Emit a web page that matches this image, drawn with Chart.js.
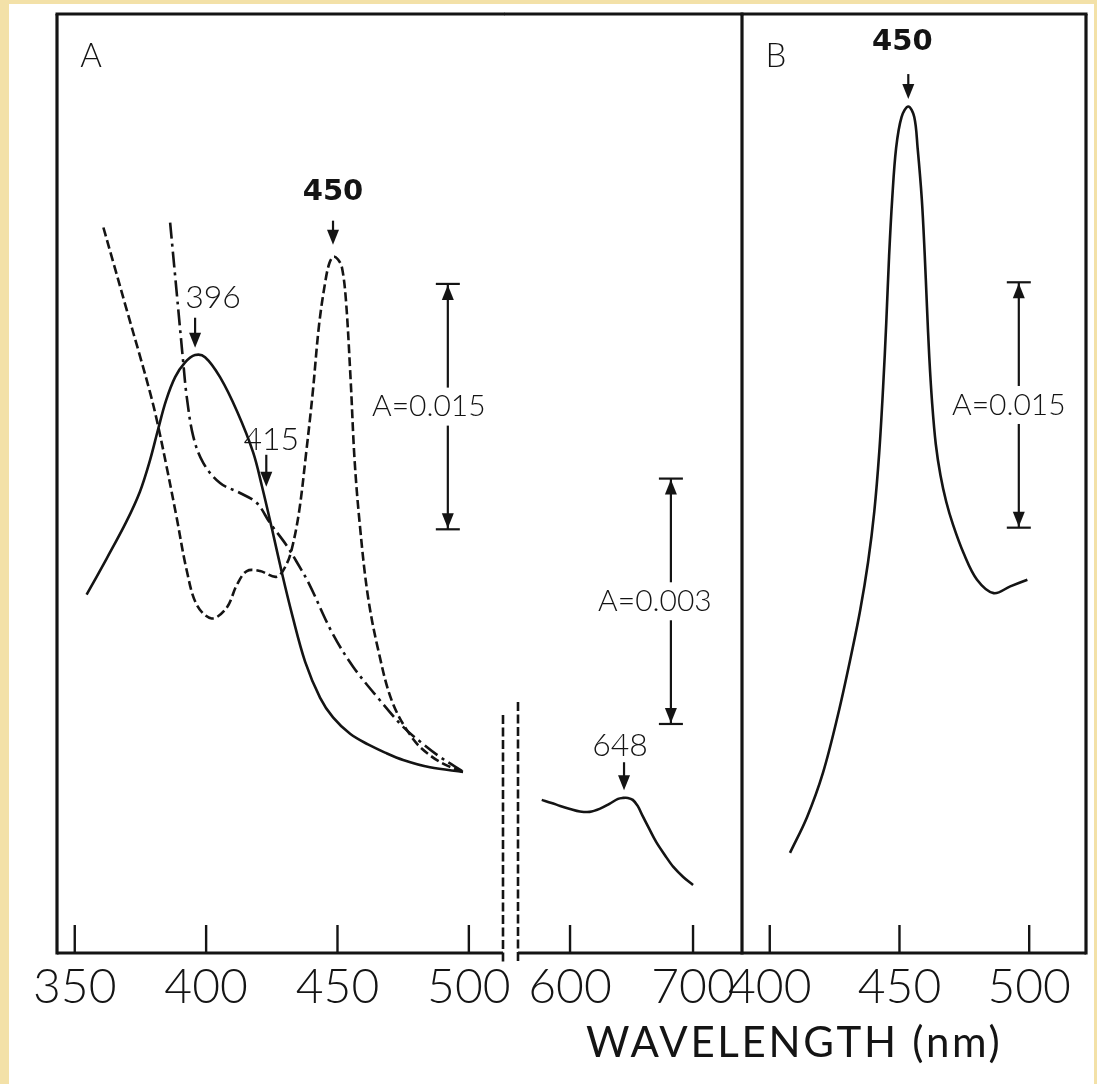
<!DOCTYPE html>
<html>
<head>
<meta charset="utf-8">
<script src="https://cdn.jsdelivr.net/npm/chart.js@4.4.1/dist/chart.umd.min.js"></script>
<style>
  body { margin: 0; background: #f3e1a8; }
  #page { position: relative; width: 1097px; height: 1084px; overflow: hidden; }
  #paper { position: absolute; left: 9px; top: 4px; right: 3px; bottom: 0; background: #fff; }
  canvas { position: absolute; left: 0; top: 0; }
  #xtitle {
    position: absolute; left: 586px; top: 1020px;
    font: 400 42px Lato, "Noto Sans", sans-serif; line-height: 42px;
    letter-spacing: 2.7px; color: #141414; white-space: nowrap;
  }
</style>
</head>
<body>
<div id="page">
  <div id="paper"></div>
  <canvas id="chart-a-uv" width="1097" height="1084"></canvas>
  <canvas id="chart-a-vis" width="1097" height="1084"></canvas>
  <canvas id="chart-b" width="1097" height="1084"></canvas>
  <div id="xtitle">WAVELENGTH (nm)</div>
</div>
<script>
// absorbance in milli-units, arbitrary baseline; scale bars give the real size
const ticksUv = [350, 400, 450, 500];
const ticksVis = [600, 700];
const ticksB = [400, 450, 500];

// panel A, solid trace (peak 396)
const aSolidNm = [354.5, 362.2, 369.5, 374.8, 378.6, 381.7, 384.7, 388.2, 392.0, 395.8, 399.6,
  405.3, 411.8, 417.9, 421.3, 425.1, 428.9, 432.7, 437.7, 443.4, 448.3, 454.8, 461.6, 468.1,
  475.0, 485.2, 497.8];
const aSolidAbs = [21.90, 24.13, 26.32, 28.20, 30.10, 32.00, 33.75, 35.20, 36.10, 36.55, 36.42,
  35.20, 33.10, 30.60, 28.50, 25.90, 23.20, 20.70, 17.80, 15.60, 14.40, 13.40, 12.75, 12.25,
  11.80, 11.35, 11.07];

// panel A, dashed trace (peak 450)
const aDashNm = [360.9, 364.7, 369.8, 374.8, 378.6, 381.2, 385.0, 388.8, 392.6, 396.4, 402.1,
  407.8, 411.7, 415.5, 420.5, 426.9, 430.7, 433, 435.5, 438, 440.5, 443, 445.5, 447, 448.5,
  450.2, 451.7, 453.2, 455, 456.5, 458.5, 461.5, 465.5, 471, 479, 486, 492, 498];
const aDashAbs = [44.35, 42.20, 39.30, 36.50, 34.30, 32.60, 29.70, 26.60, 23.40, 21.30, 20.45,
  21.10, 22.50, 23.35, 23.35, 23.00, 23.80, 24.96, 27.10, 30.46, 34.13, 38.41, 41.17, 42.21,
  42.57, 42.39, 41.90, 39.94, 35.05, 30.16, 26.18, 21.90, 18.53, 15.29, 13.03, 11.99, 11.44,
  11.07];

// panel A, dash-dot trace (shoulder 415)
const aDashDotNm = [386.3, 388.8, 391.3, 392.6, 395.1, 398.9, 405.3, 412.9, 419.3, 424.3, 430.7,
  434.5, 439, 448, 456, 466, 475, 482, 489, 498];
const aDashDotAbs = [44.64, 40.37, 36.09, 34.03, 31.58, 29.96, 28.73, 28.12, 27.51, 26.29, 24.90,
  23.90, 22.63, 19.57, 17.49, 15.48, 13.82, 12.85, 11.99, 11.07];

// panel A, 600-700 nm part (5x expanded scale, peak 648)
const aVisNm = [577, 585, 592, 600, 608, 616, 624, 632, 639, 643, 647, 651, 655, 659, 664, 670,
  677, 684, 692, 700];
const aVisAbs = [1.872, 1.835, 1.798, 1.762, 1.731, 1.725, 1.762, 1.823, 1.884, 1.896, 1.896,
  1.872, 1.798, 1.676, 1.529, 1.358, 1.199, 1.052, 0.930, 0.832];

// panel B (peak 450)
const bNm = [407.8, 414.4, 420.5, 426.3, 431.0, 434.8, 437.9, 440.3, 442.2, 443.7, 444.9, 446.0,
  447.2, 448.7, 450.8, 453.4, 455.7, 457.0, 458.6, 459.7, 460.6, 461.5, 462.6, 464.0, 465.8,
  468.0, 470.6, 474.7, 479.9, 486.3, 492.7, 499.3];
const bAbs = [6.12, 8.32, 11.01, 14.56, 17.92, 20.90, 23.90, 27.00, 30.60, 34.60, 38.50, 42.60,
  46.10, 49.20, 51.10, 51.75, 51.10, 49.20, 46.10, 42.80, 39.50, 36.40, 33.60, 31.10, 29.20,
  27.60, 26.20, 24.45, 22.82, 22.00, 22.41, 22.82];

const peakLabels = ["396", "415", "450", "648"];
const scaleBars = [15, 3];

const ink = "#141414";
const thin = "300 ";

function pts(xs, ys) {
  return xs.map((x, i) => ({ x: x, y: ys[i] }));
}

function line(ctx, x1, y1, x2, y2) {
  ctx.beginPath(); ctx.moveTo(x1, y1); ctx.lineTo(x2, y2); ctx.stroke();
}

function head(ctx, x, y, dir) {
  // dir 1 = pointing down, -1 = pointing up
  ctx.beginPath();
  ctx.moveTo(x, y);
  ctx.lineTo(x - 6, y - dir * 15);
  ctx.lineTo(x + 6, y - dir * 15);
  ctx.closePath();
  ctx.fill();
}

const overlay = {
  id: "overlay",
  afterDatasetsDraw(chart, args, o) {
    const ctx = chart.ctx, a = chart.chartArea;
    const xs = chart.scales.x, ys = chart.scales.y;
    ctx.save();
    ctx.strokeStyle = ink; ctx.fillStyle = ink;
    ctx.lineCap = "butt";

    // frame
    ctx.lineWidth = 3.2;
    if (o.sides.includes("top")) line(ctx, a.left - (o.topExtend || 1.5), a.top, a.right + 1.5, a.top);
    if (o.sides.includes("left")) line(ctx, a.left, a.top, a.left, a.bottom + 1.5);
    if (o.sides.includes("right")) line(ctx, a.right, a.top, a.right, a.bottom + 1.5);
    line(ctx, a.left, a.bottom, a.right, a.bottom);

    // axis break
    if (o.breakAt) {
      ctx.save();
      ctx.lineWidth = 2.6;
      ctx.setLineDash([9, 3.5]);
      line(ctx, o.breakAt.x, o.breakAt.from, o.breakAt.x, a.bottom + 9);
      ctx.restore();
    }

    // ticks point inward
    ctx.lineWidth = 2.4;
    xs.ticks.forEach(t => {
      const px = xs.getPixelForValue(t.value);
      line(ctx, px, a.bottom, px, a.bottom - 28);
    });

    // panel letter
    if (o.letter) {
      ctx.font = thin + "33px Lato, sans-serif";
      ctx.textAlign = "center"; ctx.textBaseline = "middle";
      ctx.fillText(o.letter, a.left + 34, a.top + 42);
    }

    // peak arrows
    (o.arrows || []).forEach(ar => {
      const px = xs.getPixelForValue(ar.x), py = ys.getPixelForValue(ar.y);
      ctx.lineWidth = 2.2;
      line(ctx, px, py - ar.len, px, py - 8);
      head(ctx, px, py, 1);
      ctx.font = ar.bold ? "bold 29px 'DejaVu Sans', sans-serif" : thin + "32px Lato, sans-serif";
      ctx.textAlign = "center"; ctx.textBaseline = "middle";
      ctx.fillText(ar.text, px + ar.dx, py + ar.dy);
    });

    // absorbance scale bars
    (o.bars || []).forEach(b => {
      const px = xs.getPixelForValue(b.x);
      const y0 = ys.getPixelForValue(b.y), y1 = ys.getPixelForValue(b.y + b.size);
      ctx.lineWidth = 2.2;
      line(ctx, px, y1, px, y0);
      line(ctx, px - 12, y1, px + 12, y1);
      line(ctx, px - 12, y0, px + 12, y0);
      head(ctx, px, y1 + 1, -1);
      head(ctx, px, y0 - 1, 1);
      const mid = (y0 + y1) / 2;
      ctx.font = thin + "30px Lato, sans-serif";
      const txt = "A=" + (b.size / 1000).toFixed(3);
      const w = ctx.measureText(txt).width;
      ctx.fillStyle = "#fff";
      ctx.fillRect(px + b.dx - w / 2 - 4, mid - 19, w + 8, 38);
      ctx.fillStyle = ink;
      ctx.textAlign = "center"; ctx.textBaseline = "middle";
      ctx.fillText(txt, px + b.dx, mid);
    });
    ctx.restore();
  }
};

function dataset(xs, ys, dash) {
  return {
    data: pts(xs, ys),
    borderColor: ink,
    borderWidth: 2.6,
    borderDash: dash,
    pointRadius: 0,
    fill: false,
    tension: 0.35
  };
}

function spectrumChart(id, area, xRange, ticks, yMax, datasets, extra) {
  return new Chart(document.getElementById(id), {
    type: "line",
    data: { datasets: datasets },
    plugins: [overlay],
    options: {
      responsive: false,
      animation: false,
      events: [],
      layout: { padding: { left: area[0], right: 1097 - area[1], top: 14, bottom: 0 } },
      plugins: {
        legend: { display: false },
        tooltip: { enabled: false },
        overlay: extra
      },
      scales: {
        x: {
          type: "linear",
          min: xRange[0],
          max: xRange[1],
          afterBuildTicks: s => { s.ticks = ticks.map(v => ({ value: v })); },
          afterFit: s => { s.height = 131; },
          grid: { display: false, drawTicks: false },
          border: { display: false },
          ticks: {
            color: ink,
            font: { family: "Lato", size: 48, weight: "300" },
            padding: 6,
            maxRotation: 0,
            autoSkip: false
          }
        },
        y: { display: false, min: 0, max: yMax }
      }
    }
  });
}

spectrumChart("chart-a-uv", [57, 503], [343.24, 513.0], ticksUv, 57.4, [
  dataset(aSolidNm, aSolidAbs, []),
  dataset(aDashNm, aDashAbs, [9, 4]),
  dataset(aDashDotNm, aDashDotAbs, [16, 5, 3, 5])
], {
  sides: ["left", "top"],
  letter: "A",
  breakAt: { x: 503, from: 715 },
  arrows: [
    { x: 395.8, y: 37.0, len: 30, text: peakLabels[0], dx: 18, dy: -50 },
    { x: 422.9, y: 28.5, len: 32, text: peakLabels[1], dx: 5, dy: -47 },
    { x: 448.3, y: 43.3, len: 24, text: peakLabels[2], dx: 0, dy: -52, bold: true }
  ],
  bars: [{ x: 492, y: 25.9, size: scaleBars[0], dx: -19 }]
});

spectrumChart("chart-a-vis", [518, 742], [557.7, 739.8], ticksVis, 11.48, [
  dataset(aVisNm, aVisAbs, [])
], {
  sides: ["top", "right"],
  topExtend: 14,
  breakAt: { x: 518, from: 702 },
  arrows: [
    { x: 643.9, y: 1.99, len: 28, text: peakLabels[3], dx: -4, dy: -45 }
  ],
  bars: [{ x: 682, y: 2.8, size: scaleBars[1], dx: -16 }]
});

spectrumChart("chart-b", [742, 1086], [389.3, 521.9], ticksB, 57.4, [
  dataset(bNm, bAbs, [])
], {
  sides: ["top", "right"],
  letter: "B",
  arrows: [
    { x: 453.4, y: 52.2, len: 25, text: peakLabels[2], dx: -6, dy: -57, bold: true }
  ],
  bars: [{ x: 496, y: 26, size: scaleBars[0], dx: -10 }]
});
</script>
</body>
</html>
